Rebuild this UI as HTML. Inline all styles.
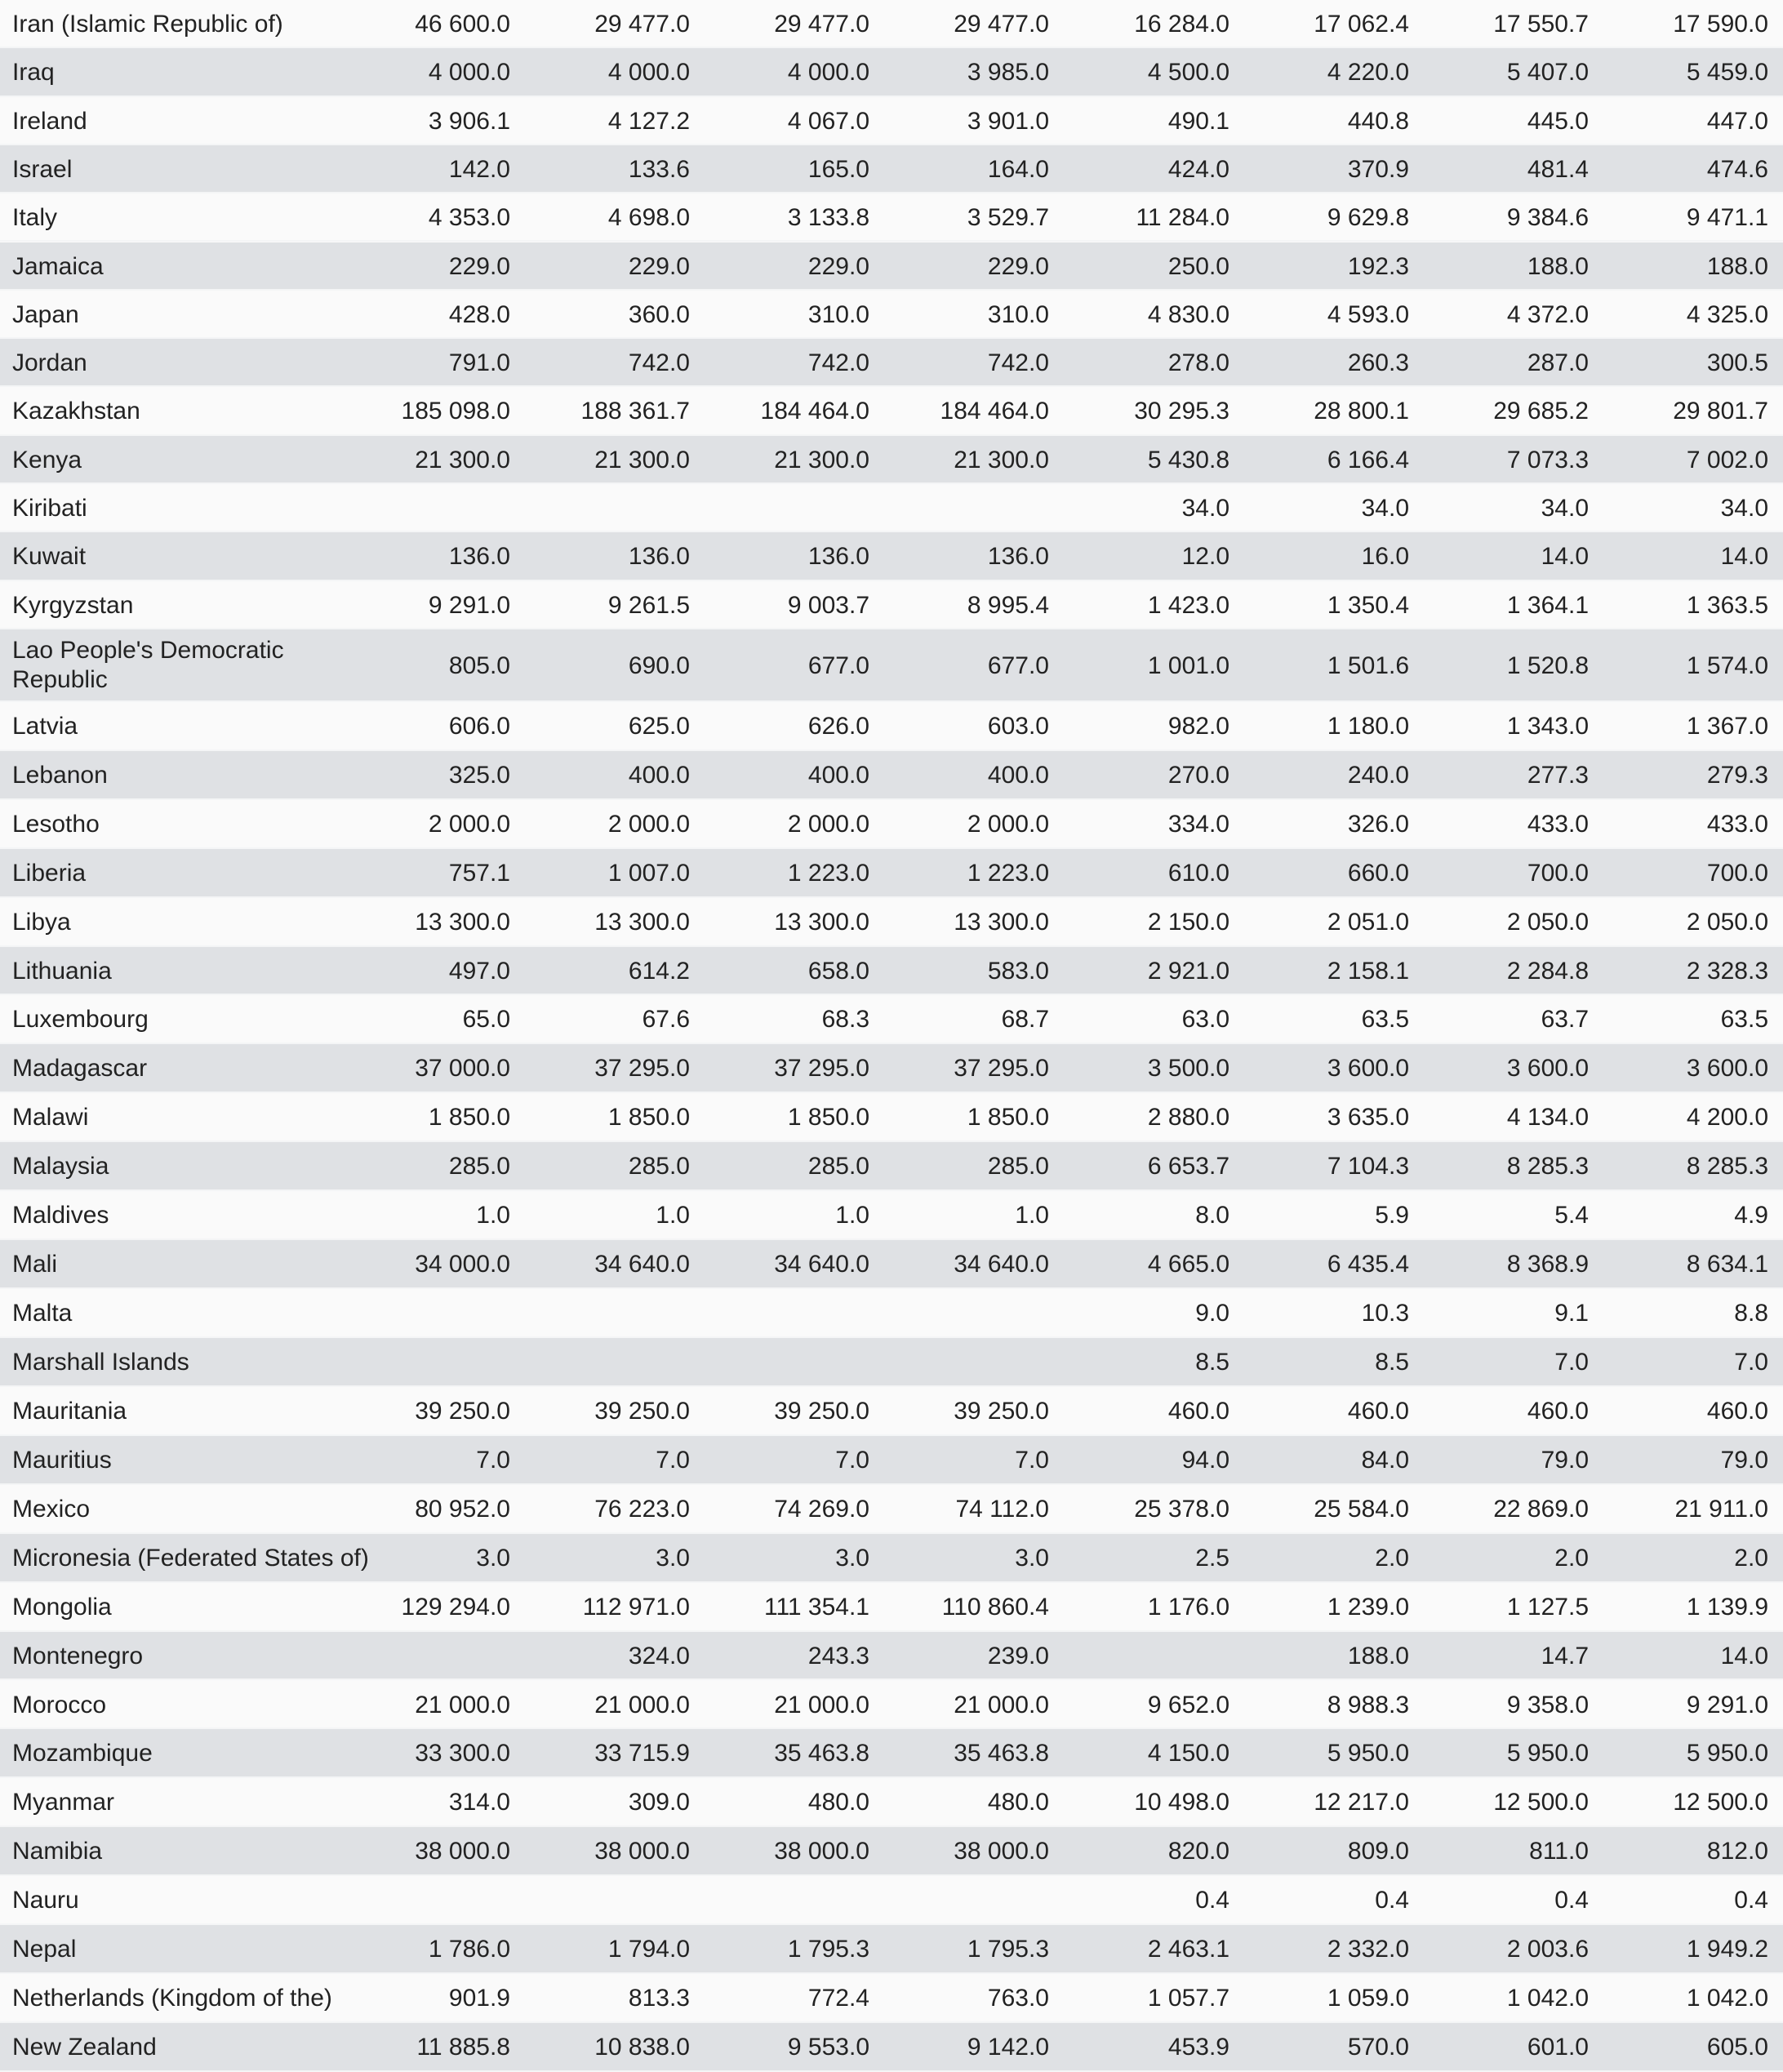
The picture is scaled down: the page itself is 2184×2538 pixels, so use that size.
<!DOCTYPE html>
<html><head><meta charset="utf-8">
<style>
html,body{margin:0;padding:0;}
body{width:2184px;height:2538px;background:#fafafa;position:relative;overflow:hidden;font-family:"Liberation Sans",sans-serif;font-size:30px;color:#222;}
.r{position:absolute;left:0;width:2184px;box-sizing:border-box;border-bottom:2px solid #f4f5f6;}
.g{background:#dfe1e4;}
.w{background:#fafafa;}
.c{position:absolute;top:0;white-space:nowrap;}
.l{left:15px;}
</style></head><body>
<div id="t"></div>
<script>
(function(){
var rows=[
["Iran (Islamic Republic of)","46 600.0","29 477.0","29 477.0","29 477.0","16 284.0","17 062.4","17 550.7","17 590.0"],
["Iraq","4 000.0","4 000.0","4 000.0","3 985.0","4 500.0","4 220.0","5 407.0","5 459.0"],
["Ireland","3 906.1","4 127.2","4 067.0","3 901.0","490.1","440.8","445.0","447.0"],
["Israel","142.0","133.6","165.0","164.0","424.0","370.9","481.4","474.6"],
["Italy","4 353.0","4 698.0","3 133.8","3 529.7","11 284.0","9 629.8","9 384.6","9 471.1"],
["Jamaica","229.0","229.0","229.0","229.0","250.0","192.3","188.0","188.0"],
["Japan","428.0","360.0","310.0","310.0","4 830.0","4 593.0","4 372.0","4 325.0"],
["Jordan","791.0","742.0","742.0","742.0","278.0","260.3","287.0","300.5"],
["Kazakhstan","185 098.0","188 361.7","184 464.0","184 464.0","30 295.3","28 800.1","29 685.2","29 801.7"],
["Kenya","21 300.0","21 300.0","21 300.0","21 300.0","5 430.8","6 166.4","7 073.3","7 002.0"],
["Kiribati","","","","","34.0","34.0","34.0","34.0"],
["Kuwait","136.0","136.0","136.0","136.0","12.0","16.0","14.0","14.0"],
["Kyrgyzstan","9 291.0","9 261.5","9 003.7","8 995.4","1 423.0","1 350.4","1 364.1","1 363.5"],
["Lao People's Democratic<br>Republic","805.0","690.0","677.0","677.0","1 001.0","1 501.6","1 520.8","1 574.0"],
["Latvia","606.0","625.0","626.0","603.0","982.0","1 180.0","1 343.0","1 367.0"],
["Lebanon","325.0","400.0","400.0","400.0","270.0","240.0","277.3","279.3"],
["Lesotho","2 000.0","2 000.0","2 000.0","2 000.0","334.0","326.0","433.0","433.0"],
["Liberia","757.1","1 007.0","1 223.0","1 223.0","610.0","660.0","700.0","700.0"],
["Libya","13 300.0","13 300.0","13 300.0","13 300.0","2 150.0","2 051.0","2 050.0","2 050.0"],
["Lithuania","497.0","614.2","658.0","583.0","2 921.0","2 158.1","2 284.8","2 328.3"],
["Luxembourg","65.0","67.6","68.3","68.7","63.0","63.5","63.7","63.5"],
["Madagascar","37 000.0","37 295.0","37 295.0","37 295.0","3 500.0","3 600.0","3 600.0","3 600.0"],
["Malawi","1 850.0","1 850.0","1 850.0","1 850.0","2 880.0","3 635.0","4 134.0","4 200.0"],
["Malaysia","285.0","285.0","285.0","285.0","6 653.7","7 104.3","8 285.3","8 285.3"],
["Maldives","1.0","1.0","1.0","1.0","8.0","5.9","5.4","4.9"],
["Mali","34 000.0","34 640.0","34 640.0","34 640.0","4 665.0","6 435.4","8 368.9","8 634.1"],
["Malta","","","","","9.0","10.3","9.1","8.8"],
["Marshall Islands","","","","","8.5","8.5","7.0","7.0"],
["Mauritania","39 250.0","39 250.0","39 250.0","39 250.0","460.0","460.0","460.0","460.0"],
["Mauritius","7.0","7.0","7.0","7.0","94.0","84.0","79.0","79.0"],
["Mexico","80 952.0","76 223.0","74 269.0","74 112.0","25 378.0","25 584.0","22 869.0","21 911.0"],
["Micronesia (Federated States of)","3.0","3.0","3.0","3.0","2.5","2.0","2.0","2.0"],
["Mongolia","129 294.0","112 971.0","111 354.1","110 860.4","1 176.0","1 239.0","1 127.5","1 139.9"],
["Montenegro","","324.0","243.3","239.0","","188.0","14.7","14.0"],
["Morocco","21 000.0","21 000.0","21 000.0","21 000.0","9 652.0","8 988.3","9 358.0","9 291.0"],
["Mozambique","33 300.0","33 715.9","35 463.8","35 463.8","4 150.0","5 950.0","5 950.0","5 950.0"],
["Myanmar","314.0","309.0","480.0","480.0","10 498.0","12 217.0","12 500.0","12 500.0"],
["Namibia","38 000.0","38 000.0","38 000.0","38 000.0","820.0","809.0","811.0","812.0"],
["Nauru","","","","","0.4","0.4","0.4","0.4"],
["Nepal","1 786.0","1 794.0","1 795.3","1 795.3","2 463.1","2 332.0","2 003.6","1 949.2"],
["Netherlands (Kingdom of the)","901.9","813.3","772.4","763.0","1 057.7","1 059.0","1 042.0","1 042.0"],
["New Zealand","11 885.8","10 838.0","9 553.0","9 142.0","453.9","570.0","601.0","605.0"]
];
var edges=[625,845,1065,1285,1506,1726,1946,2166];
var h="",y=0;
for(var i=0;i<rows.length;i++){
 var rh = i<13?59.3:(i==13?89:59.93);
 h+='<div class="r '+(i%2?'g':'w')+'" style="top:'+y+'px;height:'+rh+'px">';
 if(i==13) h+='<div class="c l" style="top:8px;line-height:36px">'+rows[i][0]+'</div>';
 else h+='<div class="c l" style="line-height:'+rh+'px">'+rows[i][0]+'</div>';
 for(var j=1;j<9;j++){ if(rows[i][j]) h+='<div class="c" style="right:'+(2184-edges[j-1])+'px;line-height:'+rh+'px">'+rows[i][j]+'</div>'; }
 h+='</div>';
 y+=rh;
}
document.getElementById("t").innerHTML=h;
})();
</script>
</body></html>
